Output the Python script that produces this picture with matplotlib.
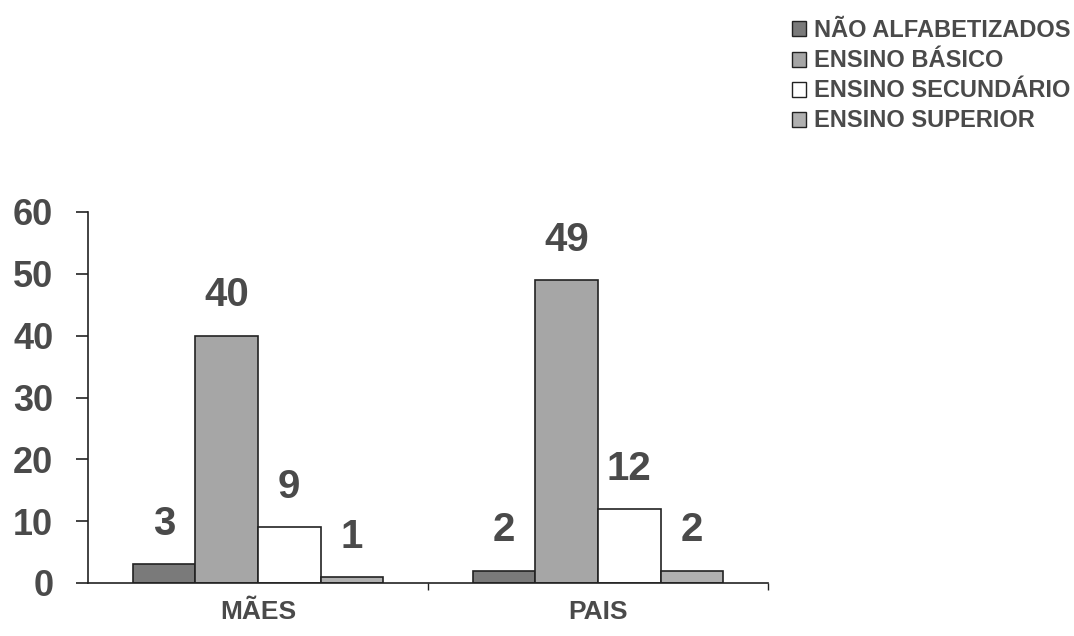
import matplotlib
matplotlib.use("Agg")
import matplotlib.pyplot as plt
from matplotlib.patches import Patch
import numpy as np

categories = ["MÃES", "PAIS"]
series_names = ["NÃO ALFABETIZADOS", "ENSINO BÁSICO", "ENSINO SECUNDÁRIO", "ENSINO SUPERIOR"]
values = {
    "NÃO ALFABETIZADOS": [3, 2],
    "ENSINO BÁSICO": [40, 49],
    "ENSINO SECUNDÁRIO": [9, 12],
    "ENSINO SUPERIOR": [1, 2],
}
yticks = [0, 10, 20, 30, 40, 50, 60]

colors = ["#7a7a7a", "#a6a6a6", "#ffffff", "#b0b0b0"]
txtcol = "#4a4a4a"
plt.rcParams['font.family'] = ['Liberation Sans', 'DejaVu Sans']

fig = plt.figure(figsize=(10.74, 6.36), dpi=100)
ax = fig.add_axes([88/1074, 53/636, 680/1074, 371/636])

bw = 0.184
x = np.arange(len(categories))
offsets = (np.arange(len(series_names)) - 1.5) * bw
for i, name in enumerate(series_names):
    vals = values[name]
    ax.bar(x + offsets[i], vals, width=bw, color=colors[i], edgecolor="#222222",
           linewidth=1.2, zorder=2)
    for xi, v in zip(x + offsets[i], vals):
        ax.annotate(str(v), (xi, v), xytext=(0, 29), textcoords="offset points",
                    ha="center", va="center", fontsize=29, fontweight="bold", color=txtcol)

ax.set_xlim(-0.5, 1.5)
ax.set_ylim(0, 60)
ax.set_yticks(yticks)
ax.set_yticklabels([str(t) for t in yticks], fontsize=26, fontweight="bold", color=txtcol)
ax.tick_params(axis="y", length=9, width=1.2, pad=16, color="#222222")
ax.set_xticks(x)
ax.set_xticklabels(categories, fontsize=19, fontweight="bold", color=txtcol)
ax.tick_params(axis="x", length=0, pad=12)
ax.set_xticks([0.5, 1.5], minor=True)
ax.tick_params(axis="x", which="minor", length=5, width=1, color="#222222")
for s in ["top", "right"]:
    ax.spines[s].set_visible(False)
for s in ["left", "bottom"]:
    ax.spines[s].set_linewidth(1.2)
    ax.spines[s].set_color("#222222")

handles = [Patch(facecolor=c, edgecolor="#222222", linewidth=1) for c in colors]
fig.legend(handles, series_names, loc="upper left", bbox_to_anchor=(771/1074, 1 + 2/636),
           frameon=False, prop={"weight": "bold", "size": 17},
           handlelength=0.6, handleheight=0.6, handletextpad=0.3, labelspacing=0.3,
           labelcolor=txtcol)

fig.savefig("out.png", dpi=100)
